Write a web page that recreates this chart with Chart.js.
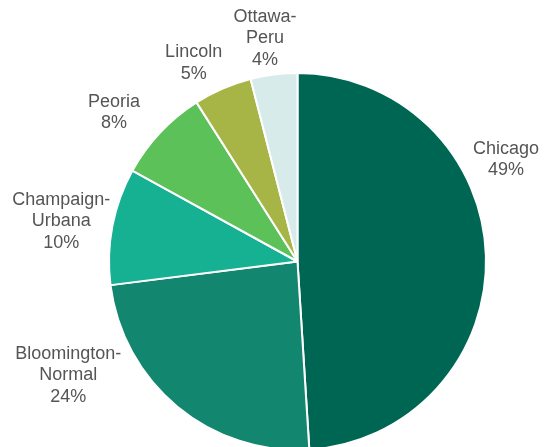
<!DOCTYPE html>
<html>
<head>
<meta charset="utf-8">
<script src="https://cdn.jsdelivr.net/npm/chart.js@4"></script>
<style>
  html, body { margin: 0; padding: 0; background: #fff; overflow: hidden; }
  #wrap { position: relative; width: 544px; height: 460px; }
</style>
</head>
<body>
<div id="wrap"><canvas id="chart-share"></canvas></div>
<script>
// Share by metro area
const areas   = ['Chicago', 'Bloomington-Normal', 'Champaign-Urbana', 'Peoria', 'Lincoln', 'Ottawa-Peru'];
const shares  = [49, 24, 10, 8, 5, 4];
const nameLines = [['Chicago'], ['Bloomington-', 'Normal'], ['Champaign-', 'Urbana'], ['Peoria'], ['Lincoln'], ['Ottawa-', 'Peru']];
const sliceColors = ['#006654', '#12866f', '#16b093', '#5dc15a', '#a6b545', '#d6ebea'];

// label anchors, in units of the pie radius from its centre
const LABEL_POS = [
  [1.106, -0.541],
  [-1.216, 0.604],
  [-1.253, -0.214],
  [-0.974, -0.789],
  [-0.551, -1.053],
  [-0.172, -1.185],
];

const outsideLabels = {
  id: 'outsideLabels',
  afterDatasetsDraw(chart) {
    const { ctx } = chart;
    const arcs = chart.getDatasetMeta(0).data;
    ctx.save();
    ctx.font = '18px "Liberation Sans", Arial, sans-serif';
    ctx.fillStyle = '#555555';
    ctx.textAlign = 'center';
    ctx.textBaseline = 'middle';
    const lh = 21.5;
    arcs.forEach((arc, i) => {
      const { x, y, outerRadius } = arc.getProps(['x', 'y', 'outerRadius'], true);
      const cx = x + LABEL_POS[i][0] * outerRadius;
      const cy = y + LABEL_POS[i][1] * outerRadius;
      const lines = [...nameLines[i], shares[i] + '%'];
      const top = cy - (lines.length - 1) * lh / 2;
      lines.forEach((t, k) => ctx.fillText(t, cx, top + k * lh));
    });
    ctx.restore();
  }
};

new Chart(document.getElementById('chart-share'), {
  type: 'pie',
  data: {
    labels: areas,
    datasets: [{
      data: shares,
      backgroundColor: sliceColors,
      borderColor: '#ffffff',
      borderWidth: 2,
    }],
  },
  options: {
    responsive: true,
    maintainAspectRatio: false,
    animation: false,
    layout: { padding: { left: 108, right: 57, top: 72, bottom: 9 } },
    plugins: {
      legend: { display: false },
      tooltip: { enabled: false },
    },
  },
  plugins: [outsideLabels],
});
</script>
</body>
</html>
